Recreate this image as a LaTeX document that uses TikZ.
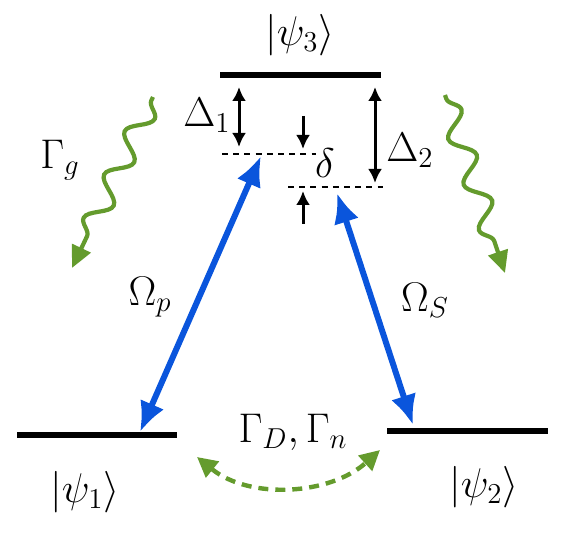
\documentclass[tikz,border=0pt]{standalone}
\usetikzlibrary{arrows.meta,decorations.pathmorphing}
\definecolor{pumpblue}{RGB}{10,85,220}
\definecolor{decaygreen}{RGB}{100,155,45}
\tikzset{
  level/.style={line width=2.7pt},
  virtual/.style={line width=1.3pt, dash pattern=on 3pt off 2.6pt},
  detuning/.style={line width=1.5pt, {Latex[length=7pt,width=7pt]}-{Latex[length=7pt,width=7pt]}},
  pointer/.style={line width=1.5pt, -{Latex[length=7pt,width=7pt]}},
  laser/.style={line width=3pt, pumpblue, {Latex[length=15pt,width=13pt]}-{Latex[length=15pt,width=13pt]}},
  decay/.style={line width=2.1pt, decaygreen, -{Triangle[length=11pt,width=10pt]},
    decorate, decoration={snake, amplitude=5.5pt, segment length=24pt, pre length=2pt, post length=9pt}},
  dephase/.style={line width=2.2pt, decaygreen, dash pattern=on 5pt off 3.5pt,
    {Triangle[length=10pt,width=10pt]}-{Triangle[length=10pt,width=10pt]}},
  lbl/.style={font=\huge}
}
\begin{document}
\begin{tikzpicture}[x=0.5pt,y=-0.5pt]
\useasboundingbox (0,0) rectangle (565,533);

% Energy levels
\coordinate (l3a) at (220,75);  \coordinate (l3b) at (381,75);
\coordinate (l1a) at (17,435);  \coordinate (l1b) at (177,435);
\coordinate (l2a) at (387,431); \coordinate (l2b) at (548,431);
\draw[level] (l3a) -- (l3b);
\draw[level] (l1a) -- (l1b);
\draw[level] (l2a) -- (l2b);

% Virtual levels
\coordinate (v1a) at (222,154); \coordinate (v1b) at (316,154);
\coordinate (v2a) at (288,187); \coordinate (v2b) at (383,187);
\draw[virtual] (v1a) -- (v1b);
\draw[virtual] (v2a) -- (v2b);

% Detunings
\coordinate (d1t) at (239,87);  \coordinate (d1b) at (239,147);
\coordinate (d2t) at (375,87);  \coordinate (d2b) at (375,183);
\draw[detuning] (d1t) -- (d1b);
\draw[detuning] (d2t) -- (d2b);
\coordinate (da) at (303,116); \coordinate (db) at (303,149);
\coordinate (dc) at (303,224); \coordinate (dd) at (303,191);
\draw[pointer] (da) -- (db);
\draw[pointer] (dc) -- (dd);

% Couplings
\coordinate (p1) at (140,432); \coordinate (p2) at (261,156);
\coordinate (s1) at (413,425); \coordinate (s2) at (337,193);
\draw[laser] (p1) -- (p2);
\draw[laser] (s1) -- (s2);

% Decay
\coordinate (g1) at (153,97);  \coordinate (g2) at (72,268);
\coordinate (g3) at (445,95);  \coordinate (g4) at (505,273);
\draw[decay] (g1) -- (g2);
\draw[decay] (g3) -- (g4);
\coordinate (n1) at (197,457); \coordinate (n2) at (380,450);
\draw[dephase] (n1) .. controls (250,500) and (330,495) .. (n2);

% Labels
\node[lbl] (psi3) at (300,35) {$|\psi_3\rangle$};
\node[lbl] (psi1) at (85,492) {$|\psi_1\rangle$};
\node[lbl] (psi2) at (484,487) {$|\psi_2\rangle$};
\node[lbl] (D1) at (207,115) {$\Delta_1$};
\node[lbl] (D2) at (410,150) {$\Delta_2$};
\node[lbl] (dl) at (325,163) {$\delta$};
\node[lbl] (Gg) at (60,160) {$\Gamma_g$};
\node[lbl] (Op) at (150,297) {$\Omega_p$};
\node[lbl] (OS) at (425,300) {$\Omega_S$};
\node[lbl] (GD) at (293,432) {$\Gamma_D,\Gamma_n$};
\end{tikzpicture}
\end{document}
